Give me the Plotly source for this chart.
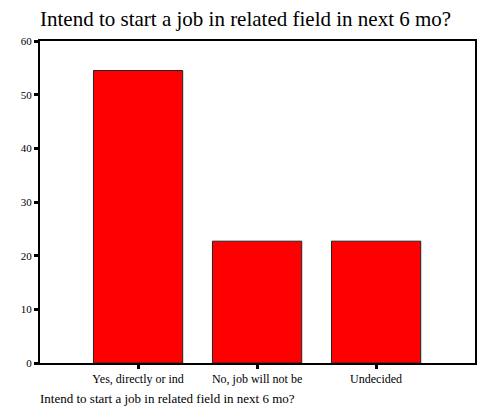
import plotly.graph_objects as go

categories = ["Yes, directly or ind", "No, job will not be", "Undecided"]
percents = [54.5, 22.7, 22.7]
y_ticks = [0, 10, 20, 30, 40, 50, 60]
title_text = "Intend to start a job in related field in next 6 mo?"

fig = go.Figure()
fig.add_trace(go.Bar(
    x=categories, y=percents, width=0.75,
    marker=dict(color="#FF0000", line=dict(color="#222222", width=1)),
    hoverinfo="skip",
))

fig.update_layout(
    width=499, height=415,
    margin=dict(l=32, r=32, t=33, b=60),
    paper_bgcolor="white", plot_bgcolor="white",
    showlegend=False,
    font=dict(family="Liberation Serif", color="black"),
    xaxis=dict(
        type="category", range=[-0.824, 2.831],
        showline=True, linecolor="black", linewidth=2, mirror=True,
        ticks="outside", ticklen=4, tickwidth=3, tickcolor="black",
        tickfont=dict(size=12, family="Liberation Serif", color="black"),
        showgrid=False, zeroline=False,
    ),
    yaxis=dict(
        range=[0, 60], tickvals=y_ticks,
        showline=True, linecolor="black", linewidth=2, mirror=True,
        ticks="outside", ticklen=4, tickwidth=3, tickcolor="black",
        tickfont=dict(size=11, family="Liberation Serif", color="black"),
        showgrid=False, zeroline=False,
    ),
    annotations=[
        dict(text=title_text, xref="paper", yref="paper",
             x=-0.0046, y=1.0683, xanchor="left", yanchor="middle",
             showarrow=False, font=dict(size=21, family="Liberation Serif", color="black")),
        dict(text=title_text, xref="paper", yref="paper",
             x=-0.0046, y=-0.1087, xanchor="left", yanchor="middle",
             showarrow=False, font=dict(size=13, family="Liberation Serif", color="black")),
    ],
)

fig.write_html("out.html")
